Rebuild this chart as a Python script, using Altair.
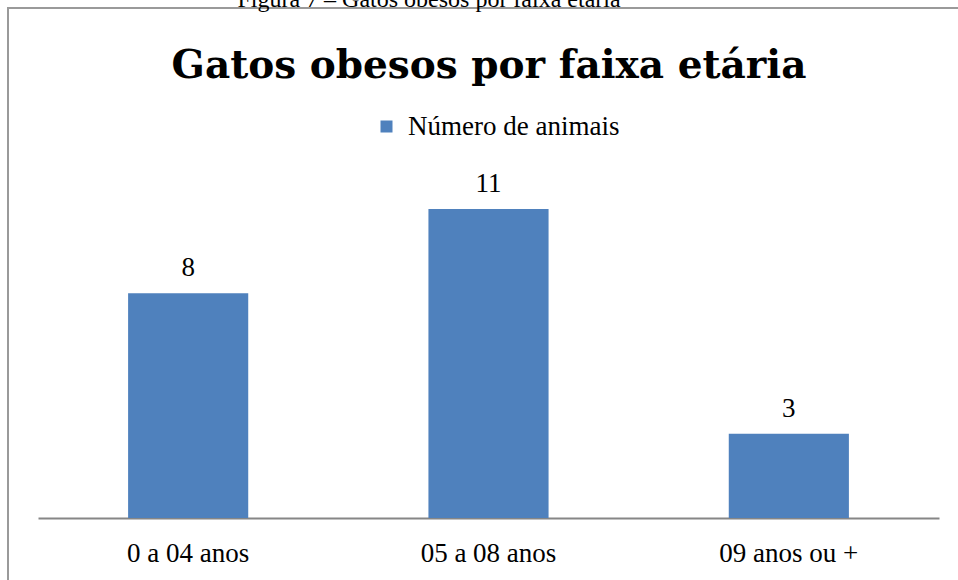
import altair as alt
import pandas as pd

categories = ["0 a 04 anos", "05 a 08 anos", "09  anos ou +"]
values = [8, 11, 3]
series_name = "Número de animais"
chart_title = "Gatos obesos por faixa etária"
caption = "Figura 7 – Gatos obesos por faixa etária"

df = pd.DataFrame({"faixa": categories, "n": values, "serie": [series_name] * 3})

SERIF = "Liberation Serif"

x_enc = alt.X("faixa:N", sort=categories, title=None,
              scale=alt.Scale(paddingInner=0.6, paddingOuter=0.3),
              axis=alt.Axis(labelAngle=0, labelFont=SERIF, labelFontSize=27,
                            labelColor="#000000", labelPadding=22, ticks=False,
                            domainColor="#868686", domainWidth=2, grid=False))
y_enc = alt.Y("n:Q", title=None, scale=alt.Scale(domain=[0, 12], nice=False),
              axis=None)

base = alt.Chart(df)

bars = base.mark_bar(color="#4F81BD").encode(
    x=x_enc, y=y_enc,
    color=alt.Color("serie:N", scale=alt.Scale(range=["#4F81BD"]),
                    legend=alt.Legend(title=None, orient="none", legendX=335, legendY=-68,
                                      symbolType="square", symbolSize=144,
                                      symbolStrokeWidth=0, labelFont=SERIF,
                                      labelFontSize=27, labelColor="#000000",
                                      labelOffset=8, padding=0, labelLimit=0)),
)

labels = base.mark_text(font=SERIF, fontSize=27, color="#000000",
                        baseline="alphabetic", dy=-17).encode(
    x=alt.X("faixa:N", sort=categories), y="n:Q", text="n:Q")

title_df = pd.DataFrame({"t": [chart_title]})
title_mark = alt.Chart(title_df).mark_text(font="DejaVu Serif", fontWeight="bold",
                                           fontSize=39, color="#000000",
                                           baseline="alphabetic", align="center").encode(
    x=alt.value(451), y=alt.value(-103), text="t:N")

cap_df = pd.DataFrame({"t": [caption]})
cap_mark = alt.Chart(cap_df).mark_text(font=SERIF, fontSize=24, color="#000000",
                                       baseline="alphabetic", align="center").encode(
    x=alt.value(391), y=alt.value(-174), text="t:N")

# frame: top and left border lines only (right/bottom lie outside the picture)
frame_top = alt.Chart(title_df).mark_rule(stroke="#9a9a9a", strokeWidth=2).encode(
    x=alt.value(-31), x2=alt.value(920), y=alt.value(-173))
frame_left = alt.Chart(title_df).mark_rule(stroke="#9a9a9a", strokeWidth=2).encode(
    x=alt.value(-30), y=alt.value(-174), y2=alt.value(399))

chart = alt.layer(frame_top, frame_left, bars, labels, title_mark, cap_mark).properties(
    width=901, height=337,
    autosize=alt.AutoSizeParams(type="none"),
    padding={"left": 38, "top": 181, "right": 19, "bottom": 62},
).configure_view(stroke=None)

chart.save("out.html", embed_options={"renderer": "svg", "actions": False})
